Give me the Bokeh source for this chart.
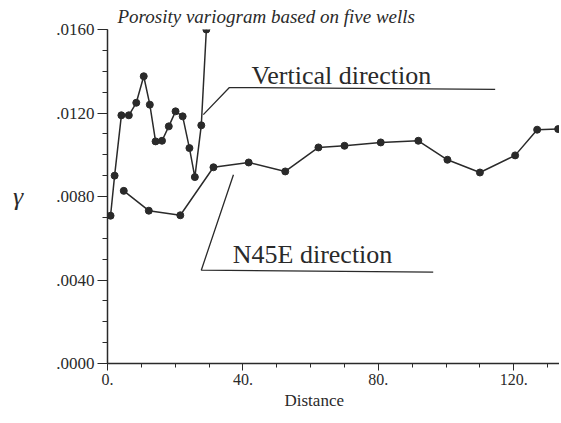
from bokeh.plotting import figure
from bokeh.models import FixedTicker, Label, Range1d, Title
from bokeh.embed import file_html
from bokeh.resources import INLINE

# ---- data ----
vert_x = [0.9, 2.1, 4.1, 6.3, 8.5, 10.7, 12.5, 14.2, 16.1, 18.1, 20.1, 22.2, 24.2, 25.8, 27.7, 29.2]
vert_y = [.00708, .0090, .01189, .01189, .01249, .01376, .0124, .01064, .01067, .01136,
          .01208, .01184, .01032, .00893, .01141, .0160]

n45_x = [4.8, 12.2, 21.5, 31.3, 41.7, 52.5, 62.3, 70.0, 80.7, 91.8, 100.4, 110.0, 120.4, 126.9, 133.1]
n45_y = [.00827, .00732, .0071, .0094, .00963, .0092, .01035, .01043, .01059, .01067,
         .00976, .00915, .00997, .0112, .01123]

x_ticks = [0, 40, 80, 120]
x_tick_labels = ["0.", "40.", "80.", "120."]
y_ticks = [0.0, 0.004, 0.008, 0.012, 0.016]
y_tick_labels = [".0000", ".0040", ".0080", ".0120", ".0160"]

title_text = "Porosity variogram based on five wells"
x_label = "Distance"
y_label = "\u03b3"
label_vertical = "Vertical direction"
label_n45e = "N45E direction"

FONT = "Liberation Serif"
INK = "#2a2a2a"

p = figure(width=559, height=415, output_backend="svg", toolbar_location=None,
           x_range=Range1d(0, 133.5), y_range=Range1d(0, 0.0160),
           min_border_left=107, min_border_right=0, min_border_top=29, min_border_bottom=52)
p.outline_line_color = None
p.grid.visible = False
p.background_fill_color = "white"

p.title.text = title_text
p.title.align = "left"
p.title.offset = 10
p.title.text_font = FONT
p.title.text_font_style = "italic"
p.title.text_font_size = "19px"
p.title.text_color = INK
p.title.standoff = 5

p.xaxis.ticker = FixedTicker(ticks=x_ticks, minor_ticks=list(range(0, 140, 10)))
p.yaxis.ticker = FixedTicker(ticks=y_ticks, minor_ticks=[i * 0.001 for i in range(0, 17)])
p.xaxis.major_label_overrides = {t: l for t, l in zip(x_ticks, x_tick_labels)}
p.yaxis.major_label_overrides = {t: l for t, l in zip(y_ticks, y_tick_labels)}

for ax in (p.xaxis, p.yaxis):
    ax.axis_line_color = INK
    ax.axis_line_width = 1.5
    ax.major_tick_line_color = INK
    ax.minor_tick_line_color = INK
    ax.major_tick_in = 0
    ax.minor_tick_in = 0
    ax.major_label_text_font = FONT
    ax.major_label_text_color = INK

p.xaxis.major_label_text_font_size = "16px"
p.yaxis.major_label_text_font_size = "17px"
p.yaxis.major_tick_out = 10
p.yaxis.minor_tick_out = 5
p.yaxis.major_label_standoff = 3
p.xaxis.major_tick_out = 7
p.xaxis.minor_tick_out = 4
p.xaxis.major_label_standoff = 3

# x axis title as a positioned title below the axis
p.add_layout(Title(text=x_label, align="left", offset=177, text_font=FONT,
                   text_font_style="normal", text_font_size="17px", text_color=INK,
                   standoff=2), "below")

p.yaxis.axis_label = y_label
p.yaxis.axis_label_text_font = FONT
p.yaxis.axis_label_text_font_style = "italic"
p.yaxis.axis_label_text_font_size = "26px"
p.yaxis.axis_label_text_color = INK
p.yaxis.axis_label_standoff = 30
try:
    p.yaxis.axis_label_orientation = "horizontal"
except Exception:
    pass

# series
p.line(vert_x, vert_y, line_color=INK, line_width=1.5)
p.scatter(vert_x, vert_y, size=7, fill_color=INK, line_color=INK)
p.line(n45_x, n45_y, line_color=INK, line_width=1.5)
p.scatter(n45_x, n45_y, size=7, fill_color=INK, line_color=INK)

# leader lines for the annotations
p.line([28.3, 36.0, 114.5], [0.01192, 0.01322, 0.01313], line_color=INK, line_width=1.3)
p.line([37.2, 27.7, 96.2], [0.00904, 0.00447, 0.00438], line_color=INK, line_width=1.3)

p.add_layout(Label(x=42.5, y=0.01378, text=label_vertical, text_font=FONT,
                   text_font_size="26px", text_color=INK, text_baseline="alphabetic"))
p.add_layout(Label(x=37.0, y=0.00522, text=label_n45e, text_font=FONT,
                   text_font_size="26px", text_color=INK, text_baseline="alphabetic"))

open("out.html", "w").write(file_html(p, INLINE))
